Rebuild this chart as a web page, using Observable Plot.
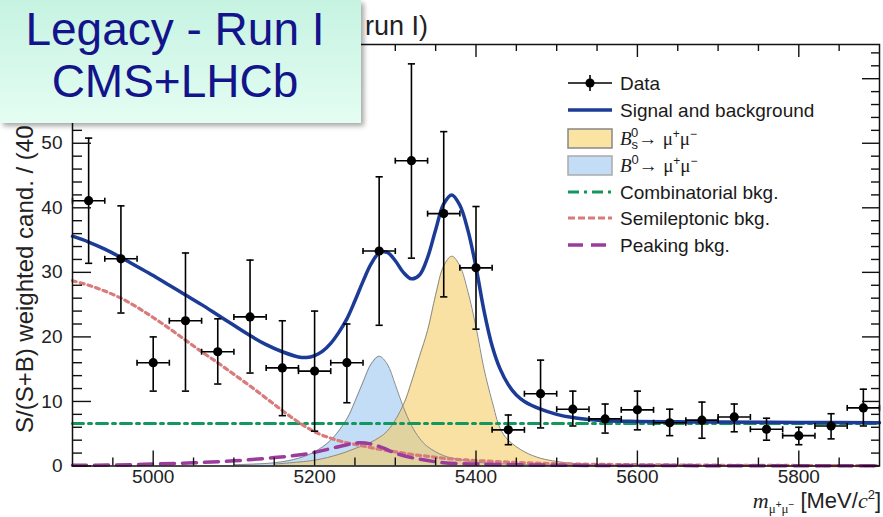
<!DOCTYPE html>
<html>
<head>
<meta charset="utf-8">
<script src="https://cdn.jsdelivr.net/npm/d3@7"></script>
<script src="https://cdn.jsdelivr.net/npm/@observablehq/plot@0.6"></script>
<style>
  body { margin: 0; background: #fff; }
  #wrap { position: relative; width: 883px; height: 517px; overflow: hidden; font-family: "Liberation Sans", Arial, sans-serif; }
  #badge {
    position: absolute; left: 0; top: 0; width: 361px; height: 123px;
    background: linear-gradient(#c6f3e1, #e4fdf3);
    box-shadow: 3px 3px 5px rgba(0,0,0,0.35);
    color: #13138c; font-size: 46px; line-height: 52px;
    font-family: "Liberation Sans", Arial, sans-serif;
  }
  #badge div { width: 350px; text-align: center; }
  #badge .l1 { padding-top: 3px; }
</style>
</head>
<body>
<div id="wrap">
  <div id="chart"></div>
  <div id="badge"><div class="l1">Legacy - Run I</div><div>CMS+LHCb</div></div>
</div>
<script>
// Binned data: bin centres (MeV/c^2), weighted yield and asymmetric error bounds
const binMass = [4920, 4960, 5000, 5040, 5080, 5120, 5160, 5200, 5240, 5280, 5320, 5360, 5400,
                 5440, 5480, 5520, 5560, 5600, 5640, 5680, 5720, 5760, 5800, 5840, 5880];
const binYield = [41.1, 32.1, 16.0, 22.5, 17.7, 23.1, 15.2, 14.7, 16.0, 33.3, 47.3, 39.1, 30.7,
                  5.6, 11.2, 8.8, 7.3, 8.7, 6.7, 7.1, 7.6, 5.7, 4.7, 6.2, 9.0];
const binHigh = [50.8, 40.3, 20.0, 33.0, 22.8, 31.9, 22.5, 24.0, 22.0, 44.8, 62.3, 51.8, 40.2,
                 7.9, 16.4, 11.6, 9.6, 11.6, 8.8, 9.9, 9.6, 7.4, 6.0, 8.1, 11.9];
const binLow = [31.4, 23.7, 11.6, 11.6, 12.7, 14.4, 7.8, 5.4, 9.8, 21.8, 32.2, 26.2, 21.2,
                3.3, 5.9, 6.2, 5.1, 5.6, 4.7, 4.3, 5.3, 4.0, 3.3, 4.2, 6.2];
const binHalfWidth = 20;

// Fit model: total and components
const totalMass = [4900, 4920, 4940, 4960, 4980, 5000, 5020, 5040, 5060, 5080, 5100, 5120, 5140, 5160, 5180,
                   5190, 5200, 5210, 5220, 5230, 5240, 5250, 5260, 5270, 5280, 5290, 5300, 5310, 5320, 5330,
                   5340, 5350, 5360, 5370, 5380, 5390, 5400, 5410, 5420, 5430, 5440, 5450, 5460, 5480, 5500,
                   5520, 5540, 5560, 5600, 5650, 5700, 5800, 5900];
const totalFit = [35.6, 34.7, 33.6, 32.3, 30.9, 29.5, 28.0, 26.5, 25.0, 23.4, 21.8, 20.2, 18.8, 17.7, 16.9,
                  16.8, 17.1, 17.8, 19.0, 20.7, 22.8, 25.6, 28.6, 31.3, 33.0, 33.1, 31.8, 30.0, 29.0, 29.6,
                  32.3, 36.6, 40.6, 42.0, 40.4, 36.5, 30.8, 24.0, 18.6, 15.0, 12.6, 11.0, 10.0, 8.8, 8.0,
                  7.5, 7.2, 7.0, 6.9, 6.85, 6.8, 6.75, 6.7];

const bsMass = [5150, 5200, 5230, 5250, 5270, 5290, 5310, 5320, 5330, 5340, 5350, 5360, 5370, 5380,
                5390, 5400, 5410, 5420, 5430, 5440, 5460, 5480, 5500, 5520, 5550, 5600];
const bsFit = [0.3, 0.9, 1.8, 2.7, 3.7, 5.4, 9.5, 13.0, 17.0, 21.0, 26.5, 31.0, 32.5, 31.0,
               27.0, 21.5, 15.0, 10.0, 5.8, 4.0, 2.2, 1.2, 0.7, 0.4, 0.2, 0.05];

const b0Mass = [5100, 5150, 5180, 5200, 5220, 5240, 5250, 5260, 5270, 5280, 5290, 5300, 5310, 5320,
                5330, 5340, 5360, 5380, 5400, 5440, 5500, 5600];
const b0Fit = [0.2, 0.5, 1.2, 2.2, 4.0, 7.3, 10.0, 13.0, 15.8, 17.0, 15.8, 12.6, 9.1, 6.3,
               4.3, 3.0, 1.6, 1.0, 0.6, 0.3, 0.1, 0.03];

const combMass = [4900, 5900];
const combFit = [6.6, 6.6];

const semiMass = [4900, 4920, 4940, 4960, 4980, 5000, 5020, 5040, 5060, 5080, 5100, 5120, 5140, 5160,
                  5180, 5200, 5220, 5240, 5260, 5280, 5300, 5320, 5340, 5360, 5380, 5400, 5450, 5500,
                  5600, 5700, 5800, 5900];
const semiFit = [28.7, 28.0, 27.1, 26.0, 24.6, 23.0, 21.3, 19.5, 17.7, 16.0, 14.2, 12.4, 10.5, 8.6,
                 6.8, 5.3, 4.3, 3.6, 3.1, 2.6, 2.2, 1.8, 1.5, 1.2, 1.0, 0.85, 0.55, 0.35,
                 0.2, 0.12, 0.08, 0.05];

const peakMass = [4900, 4950, 5000, 5050, 5100, 5150, 5180, 5200, 5220, 5240, 5255, 5270, 5285, 5300,
                  5320, 5340, 5360, 5400, 5450, 5500, 5600, 5900];
const peakFit = [0.1, 0.15, 0.3, 0.5, 0.8, 1.3, 1.7, 2.1, 2.7, 3.3, 3.6, 3.4, 2.8, 2.0,
                 1.3, 0.85, 0.5, 0.3, 0.2, 0.12, 0.07, 0.04];

// Axis ticks and labels
const xMajorTicks = [5000, 5200, 5400, 5600, 5800];
const xMinorTicks = d3.range(4950, 5900, 50).filter(v => !xMajorTicks.includes(v));
const yMajorTicks = [0, 10, 20, 30, 40, 50, 60];
const yTickLabels = [0, 10, 20, 30, 40, 50];
const yMinorTicks = d3.range(2, 65, 2).filter(v => v % 10 !== 0);

const rows = (ms, vs) => ms.map((m, i) => ({m, v: vs[i]}));
const points = binMass.map((m, i) => ({m, v: binYield[i], lo: binLow[i], hi: binHigh[i]}));

const W = 883, H = 517, mT = 44, mB = 51.5, mL = 72, mR = 4;
const plotH = H - mT - mB, plotW = W - mL - mR;

const hCap = {draw(ctx, size) { const r = Math.sqrt(size / Math.PI); ctx.moveTo(-r, 0); ctx.lineTo(r, 0); }};
const vCap = {draw(ctx, size) { const r = Math.sqrt(size / Math.PI); ctx.moveTo(0, -r); ctx.lineTo(0, r); }};

const blue = "#1b3b96", gray = "#8a8a8a";
const green = "#12975c", red = "#d77b7b", purple = "#9b3b9b";
const b0Color = "#c4ddf7", bsColor = "#f4cd66", bsOpacity = 0.6;
const curve = "catmull-rom";

const chart = Plot.plot({
  width: W, height: H,
  marginTop: mT, marginBottom: mB, marginLeft: mL, marginRight: mR,
  x: {domain: [4900, 5900], axis: null},
  y: {domain: [0, 65.3], axis: null},
  style: {fontFamily: '"Liberation Sans", Arial, sans-serif', background: "#fff", overflow: "visible"},
  marks: [
    Plot.areaY(rows(b0Mass, b0Fit), {x: "m", y: "v", fill: b0Color, curve}),
    Plot.areaY(rows(bsMass, bsFit), {x: "m", y: "v", fill: bsColor, fillOpacity: bsOpacity, curve}),
    Plot.lineY(rows(b0Mass, b0Fit), {x: "m", y: "v", stroke: gray, strokeWidth: 1, curve}),
    Plot.lineY(rows(bsMass, bsFit), {x: "m", y: "v", stroke: gray, strokeWidth: 1, curve}),
    Plot.lineY(rows(combMass, combFit), {x: "m", y: "v", stroke: green, strokeWidth: 3, strokeDasharray: "11,5,3,5"}),
    Plot.lineY(rows(semiMass, semiFit), {x: "m", y: "v", stroke: red, strokeWidth: 3.2, strokeDasharray: "4,4", curve}),
    Plot.lineY(rows(peakMass, peakFit), {x: "m", y: "v", stroke: purple, strokeWidth: 3.5, strokeDasharray: "14,8", curve}),
    Plot.lineY(rows(totalMass, totalFit), {x: "m", y: "v", stroke: blue, strokeWidth: 3.5, curve}),
    // data points with error bars
    Plot.ruleX(points, {x: "m", y1: "lo", y2: "hi", stroke: "#000", strokeWidth: 1.6}),
    Plot.ruleY(points, {y: "v", x1: d => d.m - binHalfWidth, x2: d => d.m + binHalfWidth, stroke: "#000", strokeWidth: 1.6}),
    Plot.dot(points, {x: "m", y: "hi", symbol: hCap, r: 3.6, fill: "none", stroke: "#000", strokeWidth: 1.6}),
    Plot.dot(points, {x: "m", y: "lo", symbol: hCap, r: 3.6, fill: "none", stroke: "#000", strokeWidth: 1.6}),
    Plot.dot(points, {x: d => d.m - binHalfWidth, y: "v", symbol: vCap, r: 3, fill: "none", stroke: "#000", strokeWidth: 1.6}),
    Plot.dot(points, {x: d => d.m + binHalfWidth, y: "v", symbol: vCap, r: 3, fill: "none", stroke: "#000", strokeWidth: 1.6}),
    Plot.dot(points, {x: "m", y: "v", r: 4.6, fill: "#000"}),
    // inward ticks on all four sides
    Plot.ruleX(xMajorTicks, {x: d => d, insetTop: plotH - 15, stroke: "#111", strokeWidth: 1.4}),
    Plot.ruleX(xMinorTicks, {x: d => d, insetTop: plotH - 8, stroke: "#111", strokeWidth: 1.4}),
    Plot.ruleX(xMajorTicks, {x: d => d, insetBottom: plotH - 13, stroke: "#111", strokeWidth: 1.4}),
    Plot.ruleX(xMinorTicks, {x: d => d, insetBottom: plotH - 7, stroke: "#111", strokeWidth: 1.4}),
    Plot.ruleY(yMajorTicks, {y: d => d, insetRight: plotW - 19, stroke: "#111", strokeWidth: 1.4}),
    Plot.ruleY(yMinorTicks, {y: d => d, insetRight: plotW - 10, stroke: "#111", strokeWidth: 1.4}),
    Plot.ruleY(yMajorTicks, {y: d => d, insetLeft: plotW - 17, stroke: "#111", strokeWidth: 1.4}),
    Plot.ruleY(yMinorTicks, {y: d => d, insetLeft: plotW - 8, stroke: "#111", strokeWidth: 1.4}),
    // tick labels
    Plot.text(xMajorTicks, {x: d => d, frameAnchor: "bottom", dy: 16.5, text: d => String(d), fontSize: 19, fill: "#222"}),
    Plot.text(yTickLabels, {y: d => d, frameAnchor: "left", dx: -10, textAnchor: "end", text: d => String(d), fontSize: 19, fill: "#222"}),
    Plot.frame({stroke: "#111", strokeWidth: 1.5})
  ]
});

document.getElementById("chart").appendChild(chart);
const svg = d3.select(chart);
const serif = '"Liberation Serif", "DejaVu Serif", serif';

// title, right of the badge
svg.append("text").attr("x", 428).attr("y", 35).attr("text-anchor", "end")
  .attr("font-size", 27).attr("fill", "#222").text("run I)");

// y-axis title
svg.append("text").attr("transform", "translate(33,433) rotate(-90)").attr("text-anchor", "start")
  .attr("font-size", 24).attr("fill", "#222").text("S/(S+B) weighted cand. / (40 MeV/c²)");

// x-axis title
{
  const t = svg.append("text").attr("x", 881).attr("y", 508).attr("text-anchor", "end")
    .attr("font-size", 22).attr("fill", "#222");
  t.append("tspan").attr("font-family", serif).attr("font-style", "italic").text("m");
  t.append("tspan").attr("font-family", serif).attr("font-size", 13).attr("dy", 5).text("μ");
  t.append("tspan").attr("font-size", 10).attr("dy", -5).text("+");
  t.append("tspan").attr("font-family", serif).attr("font-size", 13).attr("dy", 5).text("μ");
  t.append("tspan").attr("font-size", 10).attr("dy", -5).text("−");
  t.append("tspan").attr("dy", 0).text(" [MeV/");
  t.append("tspan").attr("font-family", serif).attr("font-style", "italic").text("c");
  t.append("tspan").attr("font-size", 13).attr("dy", -9).text("2");
  t.append("tspan").attr("dy", 9).text("]");
}

// legend
{
  const lg = svg.append("g").attr("font-size", 19).attr("fill", "#1a1a1a").attr("text-anchor", "start");
  const x0 = 568, x1 = 612, tx = 620;
  const rowY = [83, 110, 138, 165, 192, 218, 245];
  // Data
  lg.append("line").attr("x1", x0).attr("x2", x1).attr("y1", rowY[0]).attr("y2", rowY[0]).attr("stroke", "#000").attr("stroke-width", 1.6);
  lg.append("line").attr("x1", 590).attr("x2", 590).attr("y1", rowY[0] - 8).attr("y2", rowY[0] + 8).attr("stroke", "#000").attr("stroke-width", 1.6);
  lg.append("circle").attr("cx", 590).attr("cy", rowY[0]).attr("r", 4.6).attr("fill", "#000");
  // Signal and background
  lg.append("line").attr("x1", x0).attr("x2", x1).attr("y1", rowY[1]).attr("y2", rowY[1]).attr("stroke", blue).attr("stroke-width", 3.5);
  // Bs and B0 boxes
  lg.append("rect").attr("x", x0).attr("y", rowY[2] - 9).attr("width", x1 - x0).attr("height", 19)
    .attr("fill", "#fbe3a2").attr("stroke", "#888").attr("stroke-width", 1.5);
  lg.append("rect").attr("x", x0).attr("y", rowY[3] - 9).attr("width", x1 - x0).attr("height", 19)
    .attr("fill", b0Color).attr("stroke", "#aaa").attr("stroke-width", 1.5);
  // background lines
  lg.append("line").attr("x1", x0).attr("x2", x1).attr("y1", rowY[4]).attr("y2", rowY[4]).attr("stroke", green).attr("stroke-width", 3).attr("stroke-dasharray", "11,5,3,5");
  lg.append("line").attr("x1", x0).attr("x2", x1).attr("y1", rowY[5]).attr("y2", rowY[5]).attr("stroke", red).attr("stroke-width", 3.2).attr("stroke-dasharray", "7,3");
  lg.append("line").attr("x1", x0).attr("x2", x1).attr("y1", rowY[6]).attr("y2", rowY[6]).attr("stroke", purple).attr("stroke-width", 3.5).attr("stroke-dasharray", "15,8");

  const label = (i, s) => lg.append("text").attr("x", tx).attr("y", rowY[i] + 7).text(s);
  label(0, "Data");
  label(1, "Signal and background");
  const decay = (i, sub) => {
    const t = lg.append("text").attr("x", tx).attr("y", rowY[i] + 7);
    t.append("tspan").attr("font-family", serif).attr("font-style", "italic").text("B");
    if (sub) {
      // subscript s first, then superscript 0 drawn above it
      t.append("tspan").attr("font-size", 13).attr("dy", 4).text("s");
      t.append("tspan").attr("font-size", 13).attr("dx", -7).attr("dy", -12).text("0");
      t.append("tspan").attr("dy", 8).text("→ ");
    } else {
      t.append("tspan").attr("font-size", 13).attr("dy", -8).text("0");
      t.append("tspan").attr("dy", 8).text("→ ");
    }
    t.append("tspan").attr("font-family", serif).text("μ");
    t.append("tspan").attr("font-size", 12).attr("dy", -7).text("+");
    t.append("tspan").attr("font-family", serif).attr("dy", 7).text("μ");
    t.append("tspan").attr("font-size", 12).attr("dy", -7).text("−");
  };
  decay(2, true);
  decay(3, false);
  label(4, "Combinatorial bkg.");
  label(5, "Semileptonic bkg.");
  label(6, "Peaking bkg.");
}
</script>
</body>
</html>
